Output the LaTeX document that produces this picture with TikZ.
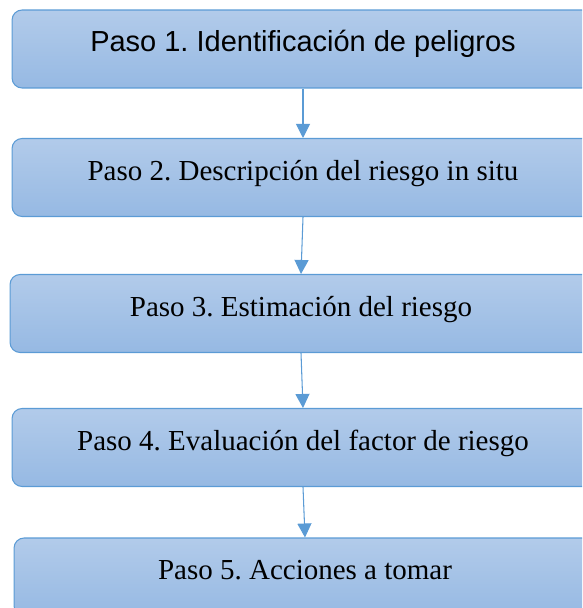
\documentclass[tikz,border=0pt]{standalone}
\usepackage{fontspec}
\setmainfont{Liberation Serif}
\newfontfamily\arialfont{Liberation Sans}
\usetikzlibrary{arrows.meta}
\definecolor{pasoborde}{HTML}{5B9BD5}
\definecolor{pasoarriba}{RGB}{178,203,234}
\definecolor{pasoabajo}{RGB}{150,185,227}
\frenchspacing

\begin{document}
\begin{tikzpicture}[x=0.02cm,y=-0.02cm,
  paso/.style={draw=pasoborde, line width=0.6pt, top color=pasoarriba, bottom color=pasoabajo,
    rounded corners=0.2cm, minimum width=11.64cm, minimum height=1.56cm, inner sep=0pt,
    font=\fontsize{16.5}{19}\selectfont, text height=0.75em, text depth=0.45em},
  flecha/.style={pasoborde, line width=0.6pt, -{Triangle[width=0.28cm,length=0.28cm]}}]
\clip (0,0) rectangle (582,608);

\node[paso, font=\arialfont\fontsize{16.5}{19}\selectfont] (p1) at (303,49) {Paso 1. Identificación de peligros};
\node[paso] (p2) at (303,177.5) {Paso 2. Descripción del riesgo in situ};
\node[paso] (p3) at (301,313.5) {Paso 3. Estimación del riesgo};
\node[paso] (p4) at (303,447.5) {Paso 4. Evaluación del factor de riesgo};
\node[paso] (p5) at (305,577) {Paso 5. Acciones a tomar};

\draw[flecha] (p1.south) -- (p2.north);
\draw[flecha] (p2.south) -- (p3.north);
\draw[flecha] (p3.south) -- (p4.north);
\draw[flecha] (p4.south) -- (p5.north);

\end{tikzpicture}
\end{document}
